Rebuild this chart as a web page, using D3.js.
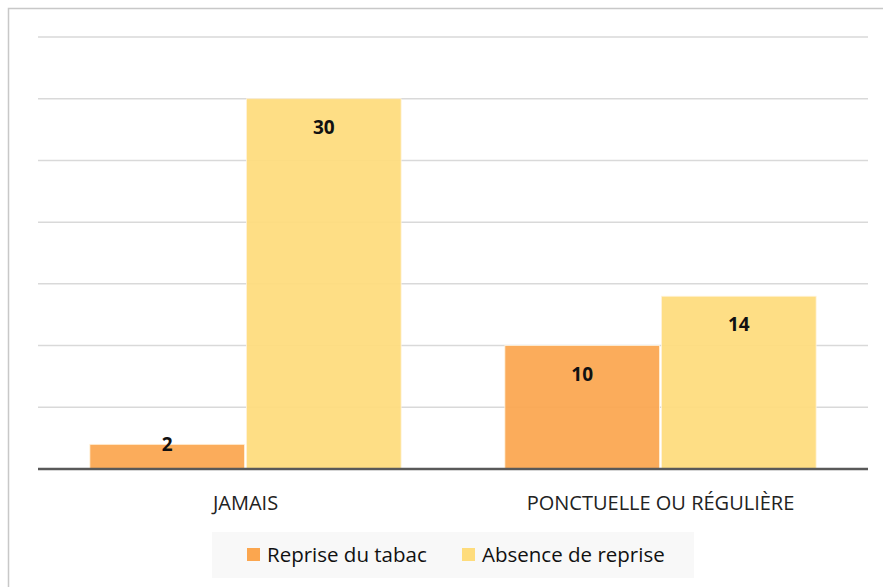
<!DOCTYPE html>
<html lang="fr">
<head>
  <meta charset="UTF-8">
  <title>Reprise du tabac</title>
  <style>
    body {
      margin: 0;
      padding: 0;
      background-color: #ffffff;
      font-family: 'Open Sans', 'Noto Sans', Arial, sans-serif;
    }

    .grid line {
      stroke: #d9d9d9;
      stroke-width: 1.5px;
    }

    .cat-label {
      font-size: 20px;
      fill: #222;
      text-anchor: middle;
    }

    .value-label {
      font-size: 19px;
      font-weight: bold;
      fill: #111;
      text-anchor: middle;
    }

    .legend text {
      font-size: 20.5px;
      fill: #111;
    }
  </style>
</head>
<body>
  <svg width="883" height="587"></svg>

  <script src="https://d3js.org/d3.v7.min.js"></script>
  <script>
    const categories = ["JAMAIS", "PONCTUELLE OU RÉGULIÈRE"];
    const seriesNames = ["Reprise du tabac", "Absence de reprise"];
    const repriseValues = [2, 10];
    const absenceValues = [30, 14];
    const gridTicks = [0, 5, 10, 15, 20, 25, 30, 35];
    const colors = ["#fba64f", "#fedc7c"];

    const rows = categories.map((c, i) => ({
      category: c,
      values: [
        { series: seriesNames[0], value: repriseValues[i] },
        { series: seriesNames[1], value: absenceValues[i] },
      ],
    }));

    const svg = d3.select("svg");
    const width = +svg.attr("width");
    const height = +svg.attr("height");

    const margin = { left: 38, right: 15, top: 37, bottom: 118 };
    const plotRight = width - margin.right;
    const baseline = height - margin.bottom;

    // outer frame (right and bottom edges fall outside the picture)
    svg.append("rect")
      .attr("x", 8.5).attr("y", 8.5)
      .attr("width", width + 10).attr("height", height + 10)
      .attr("fill", "none")
      .attr("stroke", "#c8c8c8")
      .attr("stroke-width", 1.5);

    const y = d3.scaleLinear().domain([0, 35]).range([baseline, margin.top]);

    const x0 = d3.scaleBand()
      .domain(categories)
      .range([margin.left, plotRight])
      .paddingInner(0.25)
      .paddingOuter(0.125);

    const x1 = d3.scaleBand()
      .domain(seriesNames)
      .range([0, x0.bandwidth()])
      .paddingInner(0.012);

    const color = d3.scaleOrdinal().domain(seriesNames).range(colors);

    svg.append("g")
      .attr("class", "grid")
      .selectAll("line")
      .data(gridTicks.filter((t) => t > 0))
      .enter()
      .append("line")
      .attr("x1", margin.left)
      .attr("x2", plotRight)
      .attr("y1", (d) => y(d))
      .attr("y2", (d) => y(d));

    const group = svg.append("g")
      .selectAll("g")
      .data(rows)
      .enter()
      .append("g")
      .attr("transform", (d) => `translate(${x0(d.category)},0)`);

    group.selectAll("rect")
      .data((d) => d.values)
      .enter()
      .append("rect")
      .attr("x", (d) => x1(d.series))
      .attr("y", (d) => y(d.value))
      .attr("width", x1.bandwidth())
      .attr("height", (d) => y(0) - y(d.value))
      .attr("fill", (d) => color(d.series))
      .attr("fill-opacity", 0.93)
      .attr("stroke", "#fff3dc")
      .attr("stroke-width", 0.8);

    group.selectAll("text")
      .data((d) => d.values)
      .enter()
      .append("text")
      .attr("class", "value-label")
      .attr("x", (d) => x1(d.series) + x1.bandwidth() / 2)
      .attr("y", (d) => {
        const h = y(0) - y(d.value);
        return h > 60 ? y(d.value) + 35 : y(d.value) + 7;
      })
      .text((d) => d.value);

    // baseline
    svg.append("line")
      .attr("x1", margin.left)
      .attr("x2", plotRight)
      .attr("y1", baseline)
      .attr("y2", baseline)
      .attr("stroke", "#595959")
      .attr("stroke-width", 2.5);

    svg.append("g")
      .selectAll("text")
      .data(categories)
      .enter()
      .append("text")
      .attr("class", "cat-label")
      .attr("x", (d) => x0(d) + x0.bandwidth() / 2)
      .attr("y", baseline + 41)
      .text((d) => d);

    // legend
    const legend = svg.append("g").attr("class", "legend");
    legend.append("rect")
      .attr("x", 212).attr("y", 532)
      .attr("width", 482).attr("height", 46)
      .attr("fill", "#f8f8f8");

    const legendX = [247, 462];
    const item = legend.selectAll("g")
      .data(seriesNames)
      .enter()
      .append("g")
      .attr("transform", (d, i) => `translate(${legendX[i]},548)`);

    item.append("rect")
      .attr("width", 13).attr("height", 13)
      .attr("fill", (d) => color(d));

    item.append("text")
      .attr("x", 20)
      .attr("y", 13.5)
      .text((d) => d);
  </script>
</body>
</html>
